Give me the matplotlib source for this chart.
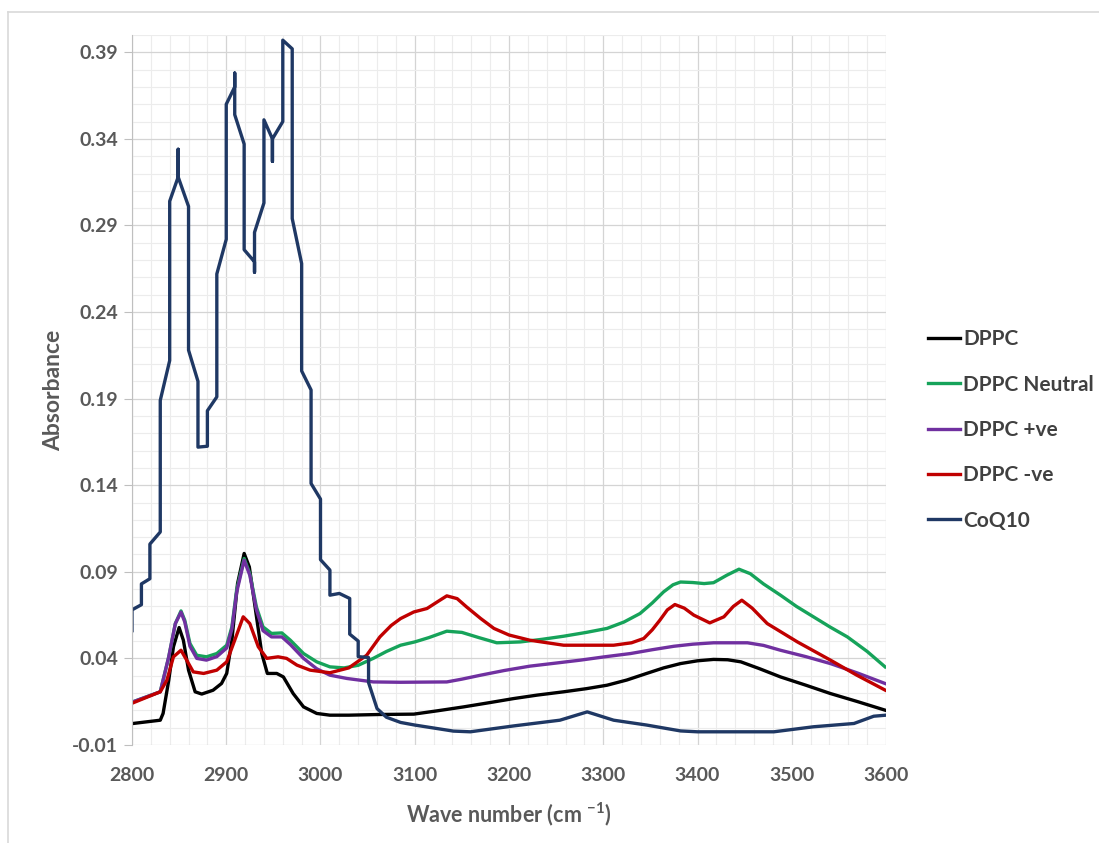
import numpy as np
import matplotlib.pyplot as plt
from matplotlib.ticker import MultipleLocator, FormatStrFormatter
from matplotlib.lines import Line2D

plt.rcParams['font.family'] = ['Lato', 'DejaVu Sans']
plt.rcParams['mathtext.fontset'] = 'custom'
plt.rcParams['mathtext.rm'] = 'Lato:bold'
plt.rcParams['mathtext.bf'] = 'Lato:bold'

# spectra (wave number, absorbance)
dppc_x = [2801, 2830, 2833, 2839, 2844, 2850, 2854.5, 2860, 2867, 2874, 2886, 2895, 2900.5,
          2906, 2912, 2919, 2924.5, 2930.6, 2937.7, 2943.6, 2953.6, 2960.6, 2971, 2982, 2996,
          3010, 3030, 3063, 3099, 3125, 3152, 3180, 3205, 3230, 3258, 3282, 3304, 3325, 3346,
          3364, 3382, 3400, 3417, 3432, 3446, 3466, 3488, 3515, 3541, 3570, 3599]
dppc_y = [0.0024, 0.0043, 0.0082, 0.0274, 0.0467, 0.0578, 0.0505, 0.0332, 0.0207, 0.0194,
          0.0216, 0.0255, 0.0313, 0.0505, 0.0832, 0.1006, 0.0928, 0.0697, 0.0428, 0.0313,
          0.0313, 0.0293, 0.0197, 0.0120, 0.0082, 0.0072, 0.0072, 0.0076, 0.0078, 0.0098,
          0.0120, 0.0145, 0.0168, 0.0188, 0.0207, 0.0225, 0.0245, 0.0275, 0.0313, 0.0345,
          0.0370, 0.0386, 0.0394, 0.0392, 0.0380, 0.0340, 0.0293, 0.0245, 0.0197, 0.0150,
          0.0101]

neutral_x = [2801, 2830, 2839, 2846, 2852, 2856, 2861.5, 2868.7, 2879, 2890, 2900.5, 2906,
             2911, 2919, 2925, 2932, 2939, 2948, 2959, 2968, 2982, 2996, 3010, 3025, 3040,
             3056, 3070, 3085, 3100, 3115, 3134, 3150, 3168, 3187, 3212, 3235, 3258, 3282,
             3304, 3322, 3339, 3352, 3364, 3374, 3382, 3395, 3407, 3417, 3431, 3444, 3456,
             3470, 3488, 3505, 3523, 3541, 3559, 3580, 3599]
neutral_y = [0.0149, 0.0207, 0.0409, 0.0601, 0.0674, 0.0620, 0.0486, 0.0418, 0.0409, 0.0428,
             0.0476, 0.0582, 0.0794, 0.0977, 0.0890, 0.0697, 0.0582, 0.0544, 0.0547, 0.0505,
             0.0428, 0.0380, 0.0351, 0.0345, 0.0360, 0.0400, 0.0440, 0.0476, 0.0495, 0.0520,
             0.0557, 0.0550, 0.0520, 0.0490, 0.0495, 0.0510, 0.0528, 0.0550, 0.0573, 0.0610,
             0.0659, 0.0720, 0.0784, 0.0825, 0.0841, 0.0838, 0.0832, 0.0837, 0.0880, 0.0915,
             0.0889, 0.0830, 0.0765, 0.0700, 0.0640, 0.0580, 0.0524, 0.0440, 0.0351]

pos_x = [2801, 2830, 2839, 2846, 2852, 2856, 2861.5, 2868.7, 2879, 2890, 2900.5, 2906, 2911,
         2919, 2925, 2932, 2939, 2948, 2959, 2968, 2982, 2996, 3010, 3028, 3056, 3085, 3134,
         3150, 3170, 3195, 3222, 3250, 3276, 3300, 3329, 3352, 3375, 3395, 3417, 3453, 3470,
         3488, 3515, 3541, 3570, 3599]
pos_y = [0.0149, 0.0207, 0.0409, 0.0601, 0.0667, 0.0610, 0.0470, 0.0400, 0.0390, 0.0410,
         0.0460, 0.0570, 0.0780, 0.0967, 0.0880, 0.0680, 0.0560, 0.0524, 0.0524, 0.0480,
         0.0400, 0.0340, 0.0303, 0.0284, 0.0264, 0.0262, 0.0264, 0.0280, 0.0303, 0.0330,
         0.0355, 0.0373, 0.0390, 0.0408, 0.0428, 0.0450, 0.0470, 0.0482, 0.0490, 0.0490,
         0.0475, 0.0447, 0.0410, 0.0370, 0.0315, 0.0255]

neg_x = [2801, 2830, 2837, 2844, 2852, 2858, 2865, 2876, 2890, 2900.5, 2909, 2918, 2925, 2934,
         2943, 2955, 2964, 2975, 2989, 3010, 3030, 3049, 3063, 3075, 3085, 3099, 3113, 3125,
         3134, 3145, 3155, 3170, 3184, 3200, 3222, 3258, 3311, 3330, 3343, 3352, 3360, 3368,
         3376, 3386, 3396, 3413, 3428, 3438, 3447, 3458, 3474, 3506, 3541, 3569, 3599]
neg_y = [0.0143, 0.0207, 0.0274, 0.0409, 0.0447, 0.0390, 0.0322, 0.0313, 0.0332, 0.0380,
         0.0505, 0.0640, 0.0601, 0.0467, 0.0400, 0.0409, 0.0400, 0.0361, 0.0332, 0.0317,
         0.0345, 0.0418, 0.0524, 0.0590, 0.0630, 0.0668, 0.0688, 0.0730, 0.0761, 0.0745,
         0.0697, 0.0630, 0.0573, 0.0535, 0.0505, 0.0476, 0.0476, 0.0490, 0.0515, 0.0565,
         0.0620, 0.0680, 0.0711, 0.0690, 0.0650, 0.0605, 0.0640, 0.0700, 0.0736, 0.0690,
         0.0601, 0.0495, 0.0390, 0.0303, 0.0217]

coq_x = [2800, 2800, 2810, 2810, 2819, 2819, 2830, 2830, 2840, 2840, 2849, 2849, 2849, 2860,
         2860, 2870, 2870, 2880, 2880, 2890, 2890, 2900, 2900, 2909, 2909, 2909, 2909, 2919,
         2919, 2930, 2930, 2930, 2930, 2940, 2940, 2949, 2949, 2949, 2960, 2960, 2970, 2970,
         2980, 2980, 2990, 2990, 3000, 3000, 3010, 3010, 3020, 3031, 3031, 3040, 3040, 3051,
         3051, 3060, 3070, 3085, 3100, 3141, 3159, 3205, 3254, 3283, 3311, 3346, 3382, 3400,
         3481, 3523, 3566, 3587, 3600]
coq_y = [0.056, 0.068, 0.071, 0.083, 0.086, 0.106, 0.113, 0.189, 0.212, 0.304, 0.318, 0.334,
         0.318, 0.301, 0.218, 0.200, 0.162, 0.1625, 0.183, 0.191, 0.262, 0.282, 0.360, 0.370,
         0.378, 0.370, 0.354, 0.337, 0.276, 0.269, 0.263, 0.269, 0.286, 0.303, 0.351, 0.340,
         0.327, 0.340, 0.350, 0.397, 0.392, 0.294, 0.268, 0.206, 0.195, 0.141, 0.132, 0.097,
         0.091, 0.0765, 0.0775, 0.0746, 0.054, 0.050, 0.041, 0.0405, 0.026, 0.011, 0.006,
         0.003, 0.0015, -0.002, -0.0024, 0.001, 0.0043, 0.0091, 0.0043, 0.0015, -0.0019,
         -0.0024, -0.0024, 0.0005, 0.0024, 0.0066, 0.0072]

series = [
    ('DPPC', dppc_x, dppc_y, '#000000'),
    ('DPPC Neutral', neutral_x, neutral_y, '#16a35a'),
    ('DPPC +ve', pos_x, pos_y, '#7030a0'),
    ('DPPC -ve', neg_x, neg_y, '#c00000'),
    ('CoQ10', coq_x, coq_y, '#1f3864'),
]

fig = plt.figure(figsize=(10.99, 8.43), dpi=100)
ax = fig.add_axes([0.1201, 0.1163, 0.6861, 0.8422])

for name, xs, ys, col in series:
    ax.plot(xs, ys, color=col, lw=2.4, label=name, solid_joinstyle='round')

ax.set_xlim(2800, 3600)
ax.set_ylim(-0.01, 0.40)
ax.xaxis.set_major_locator(MultipleLocator(100))
ax.xaxis.set_minor_locator(MultipleLocator(20))
ax.set_yticks(np.arange(-0.01, 0.391, 0.05))
ax.yaxis.set_minor_locator(MultipleLocator(0.01))
ax.yaxis.set_major_formatter(FormatStrFormatter('%.2f'))

ax.grid(which='major', color='#d4d4d4', lw=0.9)
ax.grid(which='minor', color='#ececec', lw=0.8)
ax.set_axisbelow(True)
for s in ['top', 'right', 'bottom']:
    ax.spines[s].set_visible(False)
ax.spines['left'].set_color('#bfbfbf')
ax.tick_params(axis='y', which='major', length=6, color='#bfbfbf', labelsize=14,
               labelcolor='#595959', pad=4)
ax.tick_params(axis='x', which='major', length=0, labelsize=14, labelcolor='#595959', pad=16)
ax.tick_params(which='minor', length=0)
for lab in ax.get_xticklabels() + ax.get_yticklabels():
    lab.set_fontweight('bold')

ax.set_xlabel(r'Wave number (cm $^{-1}$)', fontsize=15.5, fontweight='bold', color='#595959',
              labelpad=12)
ax.set_ylabel('Absorbance', fontsize=16.5, fontweight='bold', color='#595959', labelpad=6)

leg = fig.legend(loc='center left', bbox_to_anchor=(0.8444, 0.49), frameon=False,
                 fontsize=15, handlelength=1.55, handletextpad=0.15, labelspacing=1.22,
                 borderpad=0, borderaxespad=0)
for t in leg.get_texts():
    t.set_color('#404040')
    t.set_fontweight('bold')

# outer chart-area border
fig.add_artist(Line2D([0.0073, 1.0], [0.9858, 0.9858], color='#d9d9d9', lw=1.2))
fig.add_artist(Line2D([0.0073, 0.0073], [0.0, 0.9858], color='#d9d9d9', lw=1.2))

fig.savefig('out.png', dpi=100)
